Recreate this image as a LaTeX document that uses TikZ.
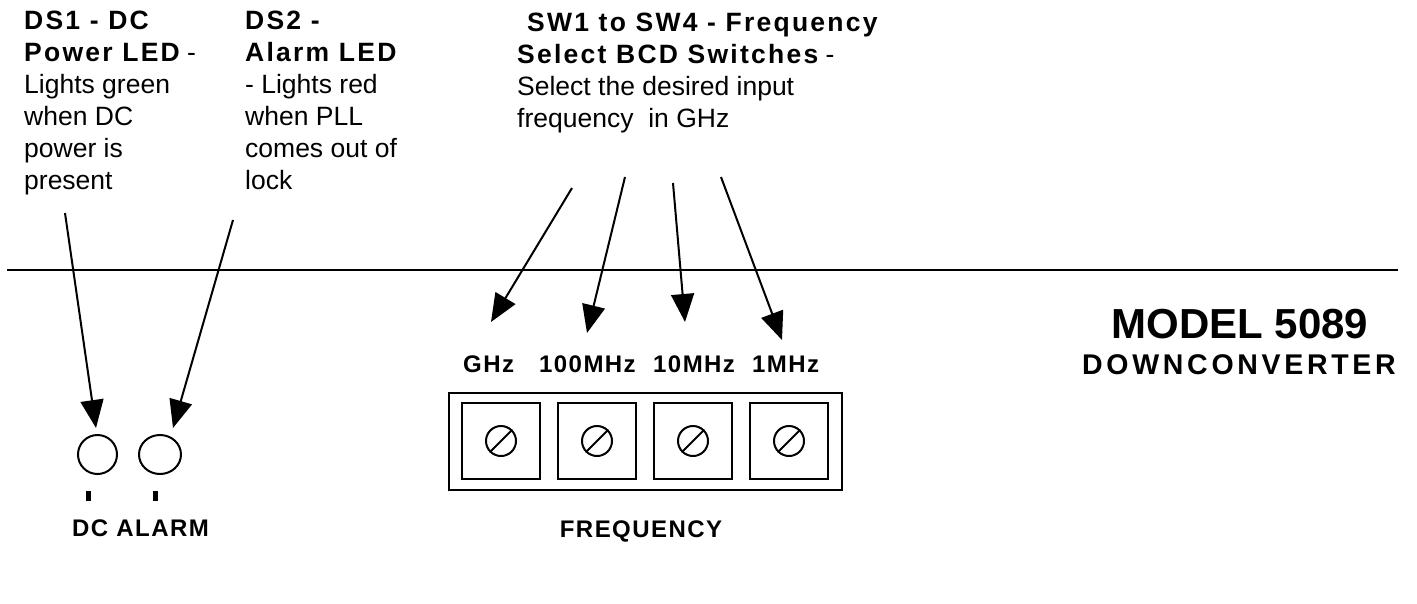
\documentclass[tikz,border=0pt]{standalone}
\usepackage{fontspec}
\setmainfont{Liberation Sans}
\newfontfamily\hdfont[LetterSpace=8.5]{Liberation Sans}
\newfontfamily\lbfont[LetterSpace=6]{Liberation Sans}
\newfontfamily\dcfont[LetterSpace=13]{Liberation Sans}
\usetikzlibrary{arrows.meta,shapes.geometric}
\newcommand\hb[1]{{\hdfont\bfseries #1}}
\begin{document}
\begin{tikzpicture}[x=1pt,y=-1pt,
  desc/.style={anchor=north west, inner sep=0pt, align=left, font=\fontsize{26.5}{32}\selectfont},
  lbl/.style={anchor=base west, inner sep=0pt, font=\lbfont\bfseries\fontsize{24}{28}\selectfont},
  ptr/.style={line width=2pt, -{Triangle[length=28pt,width=23pt]}},
  led/.style={draw, line width=2pt, ellipse, inner sep=0pt, minimum width=39pt, minimum height=39pt},
  swbox/.style={draw, line width=2pt, minimum width=78pt, minimum height=76pt, inner sep=0pt},
  screw/.style={draw, line width=2pt, circle, minimum size=30pt, inner sep=0pt},
  tick/.style={fill=black, minimum width=5pt, minimum height=10pt, inner sep=0pt}
]
\useasboundingbox (0,0) rectangle (1417,603);

% panel edge
\coordinate (edgeL) at (7,270);
\coordinate (edgeR) at (1398,270);
\draw[line width=2pt] (edgeL) -- (edgeR);

% description texts
\node[desc] (ds1txt) at (24,11) {\hb{DS1 - DC}\\\hb{Power LED} -\\Lights green\\when DC\\power is\\present};
\node[desc] (ds2txt) at (245,11) {\hb{DS2 -}\\\hb{Alarm\ LED}\\- Lights red\\when PLL\\comes out of\\lock};
\node[desc] (swtxt) at (517,13) {\hspace*{10pt}\hb{SW1 to SW4 - Frequency}\\\hb{Select BCD Switches} -\\Select the desired input\\frequency\ \ in GHz};

% LEDs
\node[led] (dcled) at (97.5,454.5) {};
\node[led, minimum width=42pt] (alled) at (160,454.5) {};
\node[tick] (dctick) at (88.5,496) {};
\node[tick] (altick) at (155,496) {};
\node[lbl] (ledlbl) at (72,536) {DC ALARM};

% LED arrows
\coordinate (a1s) at (65,213);
\coordinate (a1e) at (96,428);
\coordinate (a2s) at (233,220);
\coordinate (a2e) at (173,428);
\draw[ptr] (a1s) -- (a1e);
\draw[ptr] (a2s) -- (a2e);

% switch labels
\node[lbl] (lghz) at (463,372) {GHz};
\node[lbl] (l100) at (539,372) {100MHz};
\node[lbl] (l10) at (653,372) {10MHz};
\node[lbl] (l1) at (752,372) {1MHz};

% switch frame
\node[draw, line width=2pt, minimum width=393pt, minimum height=97pt, inner sep=0pt] (frame) at (645.5,441.5) {};
\foreach \i/\x in {1/501,2/597,3/693,4/789}{
  \node[swbox] (sw\i) at (\x,441) {};
  \node[screw] (sc\i) at (sw\i.center) {};
  \draw[line width=1.8pt] (sc\i.225) -- (sc\i.45);
}
\node[lbl, anchor=base] (freq) at (641,537) {FREQUENCY};

% switch arrows
\coordinate (b1s) at (572,188);
\coordinate (b1e) at (491,322);
\coordinate (b2s) at (625,177);
\coordinate (b2e) at (587,333);
\coordinate (b3s) at (673,183);
\coordinate (b3e) at (685,322);
\coordinate (b4s) at (721,177);
\coordinate (b4e) at (782,340);
\draw[ptr] (b1s) -- (b1e);
\draw[ptr] (b2s) -- (b2e);
\draw[ptr] (b3s) -- (b3e);
\draw[ptr] (b4s) -- (b4e);

% title
\node[anchor=base, inner sep=0pt, font=\bfseries\fontsize{42}{46}\selectfont] (model) at (1240,338) {MODEL 5089};
\node[anchor=base, inner sep=0pt, font=\dcfont\bfseries\fontsize{28.5}{33}\selectfont] (dconv) at (1239,374) {DOWNCONVERTER};
\end{tikzpicture}
\end{document}
